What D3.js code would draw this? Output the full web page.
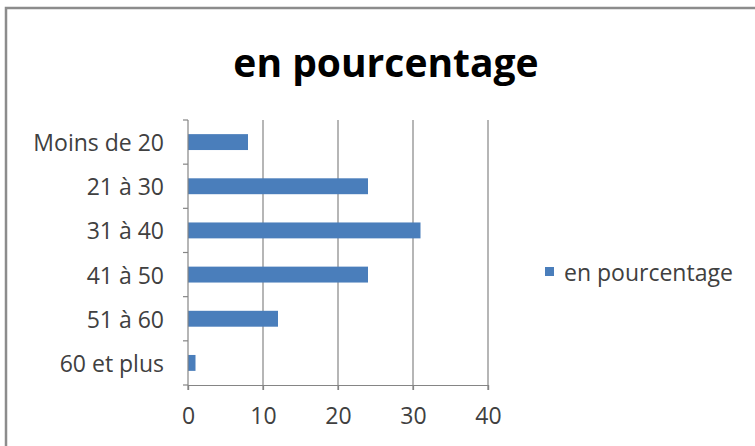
<!DOCTYPE html>
<html>
<head>
<meta charset="utf-8">
<script src="https://cdn.jsdelivr.net/npm/d3@7"></script>
<style>
  html, body { margin: 0; padding: 0; background: #ffffff; }
  svg { display: block; }
  text { font-family: "Open Sans", "Liberation Sans", sans-serif; }
</style>
</head>
<body>
<svg id="chart" width="755" height="446"></svg>
<script>
// Age groups and their share, in percent
const categories = ["Moins de 20", "21 à 30", "31 à 40", "41 à 50", "51 à 60", "60 et plus"];
const values = [8, 24, 31, 24, 12, 1];
const xTicks = [0, 10, 20, 30, 40];
const seriesName = "en pourcentage";
const titleText = "en pourcentage";

const svg = d3.select("#chart");
const W = 755, H = 446;
const plot = { left: 188, right: 488, top: 120, bottom: 385 };
const barColor = "#4a7ebb";
const gridColor = "#858585";
const labelColor = "#404040";
const labelSize = 23;

// Frame around the chart
svg.append("rect").attr("width", W).attr("height", H).attr("fill", "#ffffff");
svg.append("path")
  .attr("d", `M6,${H} L6,8 L${W},8`)
  .attr("fill", "none")
  .attr("stroke", "#8c8c8c")
  .attr("stroke-width", 2.5);

// Title
svg.append("text")
  .attr("x", 386).attr("y", 61)
  .attr("text-anchor", "middle")
  .attr("dominant-baseline", "central")
  .attr("font-size", 39)
  .attr("font-weight", "bold")
  .attr("fill", "#000")
  .text(titleText);

const x = d3.scaleLinear().domain([0, 40]).range([plot.left, plot.right]);
const y = d3.scaleBand().domain(categories).range([plot.top, plot.bottom])
  .paddingInner(0.64).paddingOuter(0.32);
const yBand = d3.scaleBand().domain(categories).range([plot.top, plot.bottom]);

// Vertical gridlines (extended below the axis as tick marks)
svg.append("g")
  .selectAll("line")
  .data(xTicks.slice(1))
  .join("line")
  .attr("x1", d => x(d)).attr("x2", d => x(d))
  .attr("y1", plot.top).attr("y2", plot.bottom + 5)
  .attr("stroke", gridColor).attr("stroke-width", 1.2);

// Bars
svg.append("g")
  .selectAll("rect")
  .data(categories.map((c, i) => ({ c, v: values[i] })))
  .join("rect")
  .attr("x", x(0))
  .attr("y", d => y(d.c))
  .attr("width", d => x(d.v) - x(0))
  .attr("height", y.bandwidth())
  .attr("fill", barColor);

// X axis
const xAxis = svg.append("g")
  .attr("transform", `translate(0,${plot.bottom})`)
  .call(d3.axisBottom(x).tickValues(xTicks).tickSize(5).tickPadding(18));
xAxis.select(".domain").attr("stroke", gridColor).attr("stroke-width", 1.2);
xAxis.selectAll(".tick line").attr("stroke", gridColor).attr("stroke-width", 1.2);
xAxis.selectAll(".tick text")
  .attr("font-size", labelSize)
  .attr("fill", labelColor)
  .attr("font-family", "Open Sans, Liberation Sans, sans-serif");

// Y axis with ticks between categories
const yAxis = svg.append("g").attr("transform", `translate(${plot.left},0)`);
yAxis.append("line")
  .attr("x1", 0).attr("x2", 0)
  .attr("y1", plot.top).attr("y2", plot.bottom + 5)
  .attr("stroke", gridColor).attr("stroke-width", 1.2);
yAxis.selectAll(".sep")
  .data(categories.concat([null]))
  .join("line")
  .attr("class", "sep")
  .attr("x1", -5).attr("x2", 0)
  .attr("y1", (d, i) => plot.top + i * yBand.step())
  .attr("y2", (d, i) => plot.top + i * yBand.step())
  .attr("stroke", gridColor).attr("stroke-width", 1.2);
yAxis.selectAll(".lab")
  .data(categories)
  .join("text")
  .attr("class", "lab")
  .attr("x", -24)
  .attr("y", d => yBand(d) + yBand.bandwidth() / 2)
  .attr("text-anchor", "end")
  .attr("dominant-baseline", "central")
  .attr("font-size", labelSize)
  .attr("fill", labelColor)
  .text(d => d);

// Legend
const legend = svg.append("g").attr("transform", "translate(545,272)");
legend.append("rect")
  .attr("x", 0).attr("y", -5)
  .attr("width", 9).attr("height", 9)
  .attr("fill", barColor);
legend.append("text")
  .attr("x", 19).attr("y", 0)
  .attr("dominant-baseline", "central")
  .attr("font-size", labelSize)
  .attr("fill", labelColor)
  .text(seriesName);
</script>
</body>
</html>
